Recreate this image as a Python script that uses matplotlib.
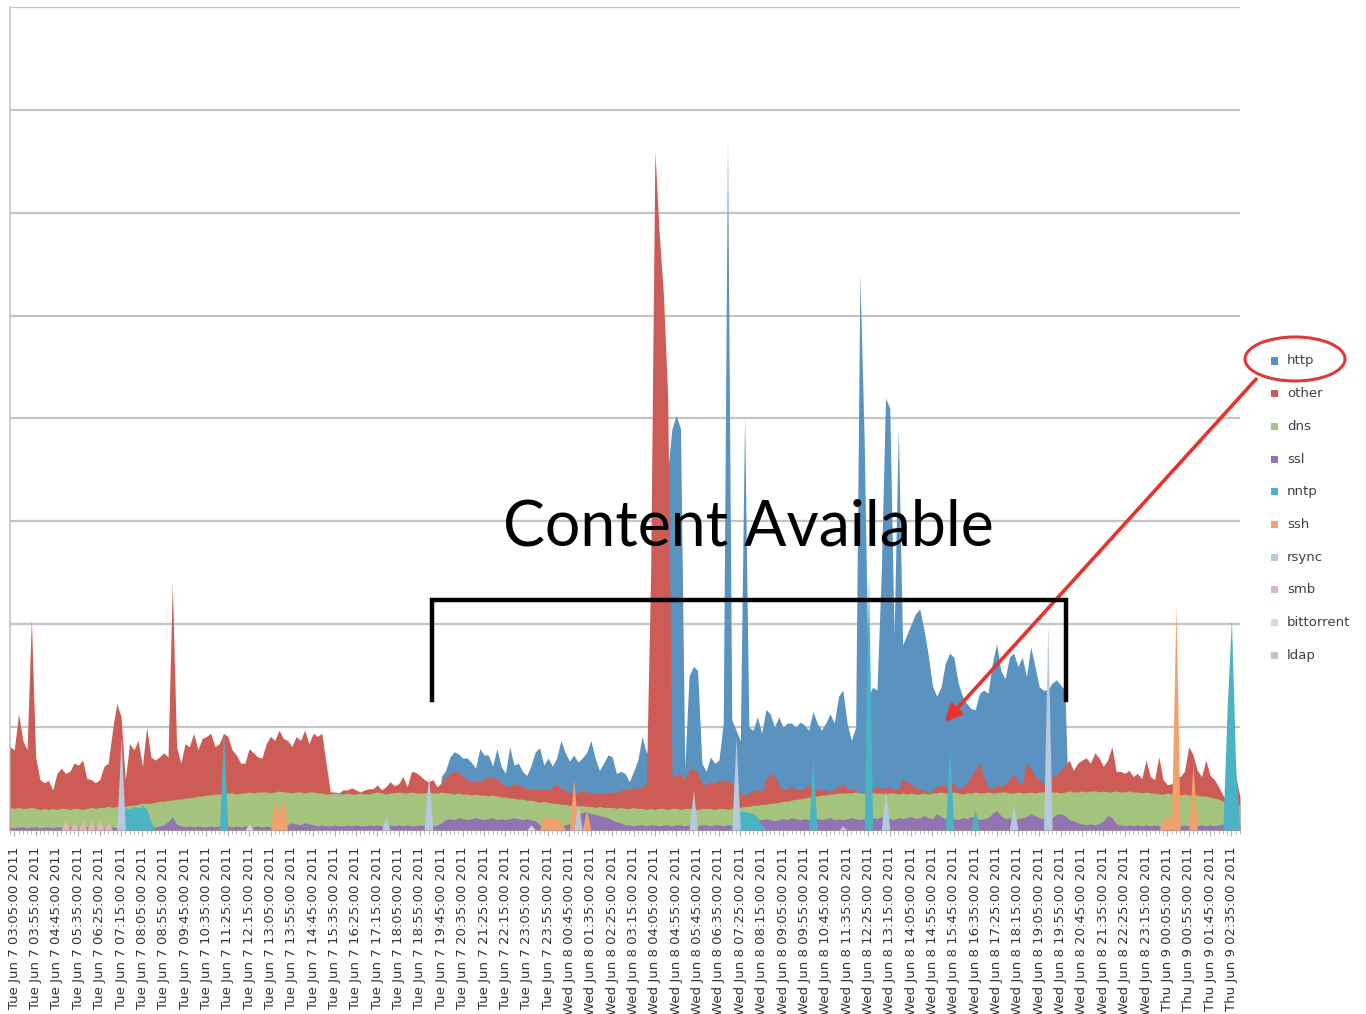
import numpy as np
import pandas as pd
import matplotlib
matplotlib.use("Agg")
import matplotlib.pyplot as plt
from matplotlib.patches import Rectangle, Ellipse, FancyArrowPatch
from matplotlib.lines import Line2D

# 10-minute samples, Tue Jun 7 02:55 -> Thu Jun 9 02:55 2011
times = pd.date_range("2011-06-07 02:55", periods=289, freq="10min")
tick_idx = list(range(1, 289, 5))
tick_labels = [f"{times[i]:%a %b} {times[i].day} {times[i]:%H:%M:%S %Y}" for i in tick_idx]

# http only shows up from sample 101 to 247
http_start = 101
http_vals = [
    0.52, 0.58, 0.71, 0.76, 0.74, 0.70, 0.70, 0.66, 0.60,
    0.79, 0.73, 0.73, 0.62, 0.79, 0.62, 0.55, 0.81, 0.63, 0.65,
    0.57, 0.53, 0.63, 0.76, 0.80, 0.63, 0.70, 0.62, 0.70, 0.87,
    0.75, 0.67, 0.73, 0.66, 0.70, 0.75, 0.87, 0.70, 0.58, 0.65,
    0.73, 0.71, 0.55, 0.57, 0.55, 0.47, 0.57, 0.68, 0.91, 0.75,
    0.80, 1.50, 2.00, 3.00, 3.50, 3.90, 4.03, 3.90, 0.60, 1.50,
    1.59, 1.55, 0.65, 0.57, 0.71, 0.65, 0.68, 1.04, 6.70, 1.07,
    0.97, 0.87, 4.03, 1.00, 0.97, 1.10, 0.94, 1.17, 1.13, 1.00,
    1.10, 1.00, 1.04, 1.04, 1.00, 1.05, 1.02, 0.97, 1.15, 1.04,
    0.97, 1.04, 1.13, 1.04, 1.30, 1.36, 1.04, 0.87, 1.00, 5.40,
    3.80, 1.30, 1.39, 1.36, 2.50, 4.20, 4.10, 1.90, 3.90, 1.80,
    1.90, 2.00, 2.10, 2.15, 1.95, 1.70, 1.40, 1.30, 1.39, 1.62,
    1.72, 1.68, 1.43, 1.30, 1.23, 1.18, 1.17, 1.33, 1.36, 1.33,
    1.62, 1.81, 1.55, 1.47, 1.68, 1.72, 1.59, 1.68, 1.49, 1.78,
    1.59, 1.39, 1.36, 1.36, 1.43, 1.46, 1.41, 1.36,
]

other = [
    0.81, 0.78, 1.13, 0.87, 0.78, 2.05, 0.71, 0.49, 0.46, 0.48,
    0.39, 0.55, 0.60, 0.55, 0.57, 0.65, 0.63, 0.68, 0.50, 0.49,
    0.46, 0.49, 0.62, 0.65, 0.97, 1.23, 1.10, 0.49, 0.84, 0.78,
    0.87, 0.62, 1.00, 0.71, 0.68, 0.71, 0.75, 0.71, 2.40, 0.81,
    0.65, 0.84, 0.81, 0.94, 0.78, 0.89, 0.91, 0.94, 0.81, 0.84,
    0.94, 0.91, 0.78, 0.73, 0.65, 0.65, 0.79, 0.75, 0.71, 0.70,
    0.84, 0.91, 0.87, 0.97, 0.89, 0.87, 0.81, 0.91, 0.87, 0.97,
    0.84, 0.94, 0.91, 0.94, 0.65, 0.37, 0.37, 0.36, 0.39, 0.39,
    0.41, 0.39, 0.37, 0.39, 0.40, 0.40, 0.44, 0.39, 0.42, 0.47,
    0.43, 0.45, 0.52, 0.42, 0.57, 0.56, 0.53, 0.49, 0.47, 0.49,
    0.42, 0.46, 0.52, 0.55, 0.57, 0.56, 0.52, 0.49, 0.47, 0.47,
    0.48, 0.49, 0.52, 0.51, 0.50, 0.46, 0.43, 0.42, 0.45, 0.44,
    0.42, 0.40, 0.40, 0.39, 0.40, 0.40, 0.39, 0.42, 0.45, 0.40,
    0.39, 0.36, 0.36, 0.36, 0.39, 0.37, 0.36, 0.36, 0.35, 0.36,
    0.37, 0.36, 0.37, 0.38, 0.40, 0.39, 0.42, 0.40, 0.42, 0.45,
    2.50, 6.60, 5.80, 5.20, 4.20, 0.52, 0.53, 0.55, 0.49, 0.58,
    0.60, 0.55, 0.45, 0.44, 0.47, 0.45, 0.49, 0.47, 0.49, 0.45,
    0.40, 0.36, 0.34, 0.36, 0.39, 0.39, 0.37, 0.49, 0.55, 0.52,
    0.44, 0.39, 0.40, 0.42, 0.40, 0.39, 0.40, 0.44, 0.42, 0.40,
    0.39, 0.39, 0.37, 0.40, 0.42, 0.45, 0.40, 0.40, 0.39, 0.36,
    0.37, 0.39, 0.40, 0.42, 0.40, 0.41, 0.42, 0.40, 0.39, 0.49,
    0.47, 0.44, 0.42, 0.39, 0.39, 0.36, 0.39, 0.42, 0.44, 0.42,
    0.49, 0.45, 0.40, 0.42, 0.45, 0.52, 0.58, 0.65, 0.52, 0.42,
    0.40, 0.44, 0.42, 0.45, 0.49, 0.55, 0.47, 0.45, 0.65, 0.60,
    0.52, 0.49, 0.45, 0.49, 0.52, 0.53, 0.58, 0.62, 0.68, 0.58,
    0.65, 0.68, 0.70, 0.65, 0.75, 0.70, 0.62, 0.68, 0.81, 0.57,
    0.57, 0.55, 0.58, 0.52, 0.55, 0.50, 0.68, 0.52, 0.49, 0.71,
    0.49, 0.44, 0.45, 0.52, 0.52, 0.57, 0.81, 0.73, 0.58, 0.52,
    0.68, 0.53, 0.49, 0.42, 0.34, 0.28, 0.32, 0.52, 0.32,
]

dns = [
    0.22, 0.21, 0.22, 0.21, 0.21, 0.22, 0.21, 0.20, 0.21, 0.20,
    0.21, 0.20, 0.21, 0.21, 0.20, 0.21, 0.21, 0.20, 0.21, 0.22,
    0.21, 0.22, 0.22, 0.23, 0.22, 0.23, 0.22, 0.23, 0.24, 0.24,
    0.25, 0.26, 0.26, 0.26, 0.27, 0.28, 0.28, 0.29, 0.29, 0.30,
    0.30, 0.31, 0.31, 0.32, 0.33, 0.33, 0.34, 0.34, 0.35, 0.35,
    0.35, 0.36, 0.36, 0.35, 0.36, 0.36, 0.37, 0.36, 0.37, 0.37,
    0.37, 0.36, 0.37, 0.38, 0.37, 0.37, 0.36, 0.37, 0.37, 0.36,
    0.37, 0.37, 0.36, 0.36, 0.35, 0.35, 0.36, 0.35, 0.35, 0.36,
    0.35, 0.35, 0.36, 0.35, 0.35, 0.36, 0.37, 0.36, 0.35, 0.36,
    0.36, 0.37, 0.36, 0.36, 0.37, 0.36, 0.36, 0.36, 0.37, 0.36,
    0.36, 0.37, 0.36, 0.36, 0.35, 0.36, 0.35, 0.35, 0.34, 0.35,
    0.34, 0.34, 0.33, 0.34, 0.33, 0.32, 0.32, 0.31, 0.31, 0.30,
    0.30, 0.29, 0.29, 0.28, 0.27, 0.28, 0.27, 0.26, 0.26, 0.25,
    0.25, 0.24, 0.24, 0.23, 0.24, 0.23, 0.23, 0.22, 0.23, 0.22,
    0.22, 0.22, 0.21, 0.22, 0.21, 0.21, 0.22, 0.21, 0.21, 0.20,
    0.21, 0.20, 0.21, 0.21, 0.20, 0.21, 0.21, 0.20, 0.21, 0.21,
    0.21, 0.20, 0.21, 0.21, 0.21, 0.20, 0.21, 0.21, 0.20, 0.21,
    0.21, 0.22, 0.23, 0.23, 0.24, 0.24, 0.25, 0.25, 0.26, 0.26,
    0.27, 0.28, 0.28, 0.29, 0.30, 0.30, 0.31, 0.32, 0.32, 0.33,
    0.34, 0.34, 0.35, 0.35, 0.36, 0.36, 0.36, 0.36, 0.37, 0.36,
    0.36, 0.37, 0.36, 0.36, 0.36, 0.35, 0.36, 0.36, 0.35, 0.36,
    0.35, 0.36, 0.35, 0.35, 0.36, 0.35, 0.36, 0.36, 0.37, 0.36,
    0.36, 0.37, 0.36, 0.35, 0.36, 0.36, 0.37, 0.36, 0.36, 0.37,
    0.36, 0.36, 0.37, 0.37, 0.36, 0.36, 0.37, 0.36, 0.36, 0.37,
    0.36, 0.37, 0.37, 0.36, 0.37, 0.37, 0.36, 0.37, 0.38, 0.37,
    0.37, 0.38, 0.37, 0.38, 0.38, 0.37, 0.38, 0.37, 0.37, 0.38,
    0.37, 0.37, 0.38, 0.37, 0.37, 0.36, 0.37, 0.36, 0.36, 0.35,
    0.35, 0.36, 0.35, 0.35, 0.34, 0.35, 0.34, 0.34, 0.34, 0.33,
    0.33, 0.32, 0.31, 0.30, 0.28, 0.26, 0.25, 0.24, 0.24,
]

ssl = [
    0.03, 0.02, 0.03, 0.03, 0.02, 0.03, 0.03, 0.02, 0.03, 0.03,
    0.02, 0.03, 0.03, 0.02, 0.03, 0.03, 0.02, 0.03, 0.03, 0.02,
    0.03, 0.03, 0.02, 0.03, 0.03, 0.02, 0.03, 0.03, 0.02, 0.03,
    0.03, 0.02, 0.03, 0.04, 0.03, 0.04, 0.05, 0.08, 0.13, 0.06,
    0.04, 0.03, 0.04, 0.03, 0.04, 0.03, 0.03, 0.04, 0.03, 0.04,
    0.03, 0.04, 0.03, 0.04, 0.03, 0.04, 0.04, 0.03, 0.04, 0.03,
    0.04, 0.03, 0.04, 0.05, 0.06, 0.05, 0.07, 0.06, 0.05, 0.07,
    0.06, 0.05, 0.04, 0.05, 0.04, 0.04, 0.05, 0.04, 0.04, 0.05,
    0.04, 0.05, 0.04, 0.04, 0.05, 0.04, 0.05, 0.04, 0.04, 0.05,
    0.04, 0.05, 0.04, 0.05, 0.04, 0.04, 0.05, 0.04, 0.05, 0.04,
    0.05, 0.07, 0.10, 0.11, 0.10, 0.12, 0.11, 0.10, 0.11, 0.12,
    0.11, 0.10, 0.11, 0.12, 0.10, 0.11, 0.10, 0.11, 0.12, 0.11,
    0.10, 0.11, 0.10, 0.09, 0.05, 0.04, 0.04, 0.05, 0.04, 0.04,
    0.05, 0.06, 0.12, 0.15, 0.17, 0.18, 0.16, 0.15, 0.14, 0.13,
    0.12, 0.10, 0.08, 0.07, 0.05, 0.05, 0.04, 0.05, 0.05, 0.04,
    0.05, 0.05, 0.04, 0.05, 0.05, 0.04, 0.05, 0.05, 0.04, 0.05,
    0.05, 0.04, 0.05, 0.05, 0.04, 0.05, 0.05, 0.04, 0.05, 0.05,
    0.06, 0.07, 0.08, 0.09, 0.10, 0.11, 0.10, 0.11, 0.10, 0.09,
    0.10, 0.11, 0.10, 0.12, 0.11, 0.10, 0.11, 0.10, 0.12, 0.11,
    0.10, 0.11, 0.12, 0.10, 0.11, 0.10, 0.11, 0.12, 0.11, 0.10,
    0.11, 0.10, 0.12, 0.11, 0.13, 0.12, 0.11, 0.10, 0.12, 0.11,
    0.12, 0.13, 0.11, 0.12, 0.14, 0.12, 0.11, 0.16, 0.13, 0.11,
    0.12, 0.11, 0.10, 0.12, 0.11, 0.13, 0.12, 0.10, 0.11, 0.12,
    0.16, 0.19, 0.14, 0.11, 0.12, 0.10, 0.11, 0.12, 0.13, 0.16,
    0.14, 0.12, 0.11, 0.13, 0.12, 0.15, 0.16, 0.14, 0.10, 0.09,
    0.07, 0.06, 0.05, 0.06, 0.05, 0.06, 0.09, 0.14, 0.12, 0.06,
    0.05, 0.04, 0.05, 0.04, 0.05, 0.04, 0.05, 0.04, 0.05, 0.04,
    0.04, 0.05, 0.04, 0.05, 0.04, 0.05, 0.04, 0.05, 0.04, 0.05,
    0.04, 0.05, 0.04, 0.05, 0.06, 0.05, 0.04, 0.05, 0.04,
]

# the small protocols are zero except for these samples
nntp = {27: 0.22, 28: 0.20, 29: 0.23, 30: 0.21, 31: 0.24, 32: 0.20, 33: 0.08,
        50: 0.95, 170: 0.15, 171: 0.18, 172: 0.18, 173: 0.17, 174: 0.16,
        175: 0.12, 176: 0.05, 188: 0.70, 201: 2.50, 220: 0.80, 226: 0.20,
        285: 1.20, 286: 2.05, 287: 0.60}
ssh = {62: 0.30, 63: 0.15, 64: 0.32, 125: 0.12, 126: 0.12, 127: 0.10,
       128: 0.12, 129: 0.08, 132: 0.50, 135: 0.20, 270: 0.10, 271: 0.13,
       272: 0.12, 273: 2.18, 277: 0.65}
rsync = {26: 0.90, 88: 0.13, 98: 0.55, 133: 0.25, 160: 0.39, 170: 0.90,
         205: 0.39, 235: 0.26, 243: 2.00}
smb = {13: 0.10, 15: 0.08, 17: 0.10, 19: 0.09, 21: 0.10, 23: 0.08}
bittorrent = {56: 0.06, 122: 0.05}
ldap = {195: 0.04}

names = ["http", "other", "dns", "ssl", "nntp", "ssh", "rsync", "smb", "bittorrent", "ldap"]
colors = ["#5b93c0", "#cd5b56", "#a5c47e", "#9274b3", "#4bb4c4",
          "#f2a06c", "#b7c9df", "#e4b5b4", "#d6dccb", "#c3c3c3"]

n = len(times)
x = np.arange(n)


def to_array(vals):
    arr = np.zeros(n)
    for k, v in vals.items():
        arr[k] = v
    return arr


http = np.zeros(n)
http[http_start:http_start + len(http_vals)] = http_vals

data = [http, np.array(other), np.array(dns), np.array(ssl),
        to_array(nntp), to_array(ssh), to_array(rsync),
        to_array(smb), to_array(bittorrent), to_array(ldap)]

W, H = 1366, 1014
fig = plt.figure(figsize=(W / 100, H / 100), dpi=100)
ax = fig.add_axes([10 / W, 1 - 830 / H, 1230 / W, 823 / H])

# overlapping areas, first series at the back
for vals, color in zip(data, colors):
    ax.fill_between(x, 0, vals, color=color, lw=0, zorder=3)

ax.set_xlim(0, n - 1)
ax.set_ylim(0, 8)
ax.set_yticks(range(1, 9))
ax.yaxis.grid(True, color="#c4c4c4", lw=1.6, zorder=1)
ax.tick_params(axis="y", length=0, labelleft=False)
ax.set_xticks(tick_idx)
ax.set_xticklabels(tick_labels, rotation=90, fontsize=9.5, color="#333333",
                   va="top", ha="center")
ax.set_xticks(x, minor=True)
ax.tick_params(axis="x", which="major", length=4, color="#b0b0b0", pad=8)
ax.tick_params(axis="x", which="minor", length=3, color="#b0b0b0")
for side in ["top", "right"]:
    ax.spines[side].set_visible(False)
for side in ["left", "bottom"]:
    ax.spines[side].set_color("#c4c4c4")
    ax.spines[side].set_linewidth(1.2)


def fx(px):
    return px / W


def fy(py):
    return 1 - py / H


# legend
for k, (name, color) in enumerate(zip(names, colors)):
    py = 361 + k * 32.7
    fig.add_artist(Rectangle((fx(1271), fy(py + 3.5)), 7 / W, 7 / H,
                             transform=fig.transFigure, color=color, lw=0))
    fig.text(fx(1287), fy(py), name, fontsize=9.5, color="#404040",
             va="center", ha="left")

# annotations
fig.add_artist(Ellipse((fx(1295), fy(359)), 100 / W, 44 / H,
                       transform=fig.transFigure, fill=False,
                       ec="#dd3a3a", lw=2.2))
fig.add_artist(FancyArrowPatch((fx(1258), fy(377)), (fx(943), fy(724)),
                               transform=fig.transFigure, arrowstyle="-|>",
                               mutation_scale=24, lw=2.6, color="#e8322c"))

for xs, ys in [([432, 432, 1066, 1066], [700, 600, 600, 700])]:
    fig.add_artist(Line2D([fx(v) for v in xs], [fy(v) for v in ys],
                          transform=fig.transFigure, color="black", lw=3.2,
                          solid_joinstyle="miter"))

fig.text(fx(748), fy(528), "Content Available", fontsize=45, family="Lato",
         color="black", ha="center", va="center")

fig.savefig("out.png", dpi=100)
